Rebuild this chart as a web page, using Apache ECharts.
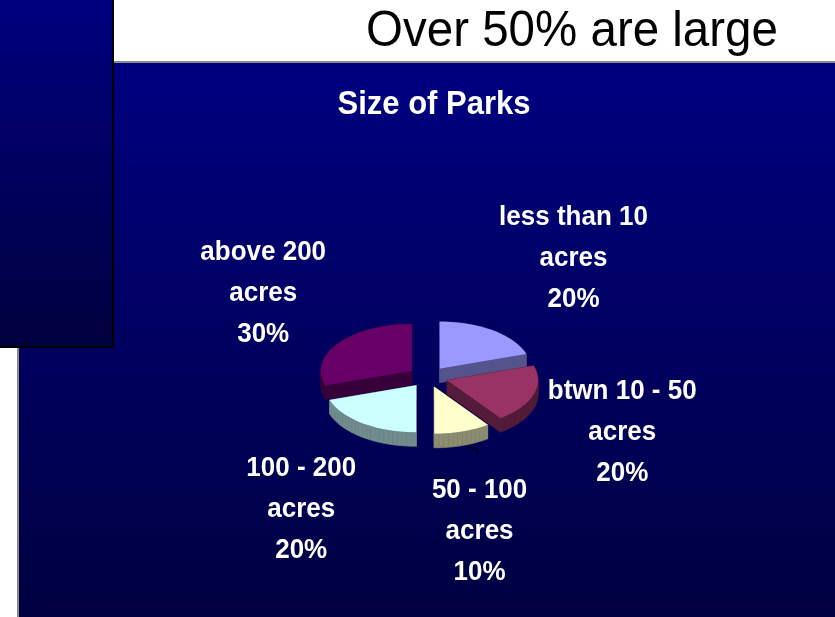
<!DOCTYPE html>
<html>
<head>
<meta charset="utf-8">
<title>Size of Parks</title>
<script src="https://cdn.jsdelivr.net/npm/echarts@6/dist/echarts.min.js"></script>
<style>
  html, body { margin: 0; padding: 0; background: #fff; }
  #chart { width: 835px; height: 617px; }
</style>
</head>
<body>
<div id="chart"></div>
<script>
// slices, clockwise from 12 o'clock
var categories = ['less than 10\nacres', 'btwn 10 - 50\nacres', '50 - 100\nacres', '100 - 200\nacres', 'above 200\nacres'];
var values = [20, 20, 10, 20, 30];
var colors = ['#9999FF', '#993366', '#FFFFCC', '#CCFFFF', '#660066'];

var headline = 'Over 50% are large';
var chartTitle = 'Size of Parks';

var FONT = '"Liberation Sans", Arial, Helvetica, sans-serif';
var STRETCH = 1.07; // text in the slide is a bit taller than wide

// tilted pie layout (px)
var pie = { cx: 428, cy: 377, rx: 91, ry: 47, depth: 14, explode: 20, labelRx: 126, labelRy: 95 };

var total = values.reduce(function (a, b) { return a + b; }, 0);
var startAngles = [];
var acc = 0;
values.forEach(function (v) {
  startAngles.push(acc / total * Math.PI * 2);
  acc += v;
});

function midAngle(i) {
  return startAngles[i] + values[i] / total * Math.PI;
}

// draw back slices first
var drawOrder = values.map(function (v, i) { return i; }).sort(function (a, b) {
  return -Math.cos(midAngle(a)) - -Math.cos(midAngle(b));
});

function shade(hex, k) {
  var n = parseInt(hex.slice(1), 16);
  var r = Math.round(((n >> 16) & 255) * k);
  var g = Math.round(((n >> 8) & 255) * k);
  var b = Math.round((n & 255) * k);
  return 'rgb(' + r + ',' + g + ',' + b + ')';
}

var measureCtx = document.createElement('canvas').getContext('2d');
measureCtx.font = 'bold 26px ' + FONT;
function halfWidth(txt) {
  return Math.max.apply(null, txt.split('\n').map(function (s) {
    return measureCtx.measureText(s).width;
  })) / 2;
}

// how far the label box is pushed sideways (0 at top/bottom, full at the sides)
function sidePush(s) {
  var f = Math.min(1, Math.pow(Math.abs(s) / 0.6, 2));
  return s < 0 ? -f : f;
}

function renderSlice(params, api) {
  var i = params.dataIndex;
  var v = api.value(1);
  var a0 = startAngles[i];
  var a1 = a0 + v / total * Math.PI * 2;
  var mid = (a0 + a1) / 2;
  var ratio = pie.ry / pie.rx;
  var vx = pie.cx + pie.explode * Math.sin(mid);
  var vy = pie.cy - pie.explode * Math.cos(mid) * ratio;
  var d = pie.depth;

  var pts = [[vx, vy]];
  var n = Math.max(8, Math.round((a1 - a0) / (Math.PI * 2) * 120));
  for (var k = 0; k <= n; k++) {
    var t = a0 + (a1 - a0) * k / n;
    pts.push([vx + pie.rx * Math.sin(t), vy - pie.ry * Math.cos(t)]);
  }

  var rank = drawOrder.indexOf(i);
  var side = shade(colors[i], 0.55);
  var children = [];
  for (k = 0; k < pts.length; k++) {
    var p = pts[k], q = pts[(k + 1) % pts.length];
    children.push({
      type: 'polygon', z2: rank * 10, silent: true,
      shape: { points: [p, q, [q[0], q[1] + d], [p[0], p[1] + d]] },
      style: { fill: side, stroke: side, lineWidth: 0.6 }
    });
  }
  children.push({
    type: 'polygon', z2: rank * 10 + 1,
    shape: { points: pts },
    style: { fill: colors[i] }
  });

  // label outside the slice, measured from the middle of the pie's thickness
  var pct = Math.round(v / total * 100) + '%';
  var txt = categories[i] + '\n' + pct;
  var hw = halfWidth(txt), hh = 60;
  var lx = pie.cx + pie.labelRx * Math.sin(mid) + hw * sidePush(Math.sin(mid));
  var ly = pie.cy + d / 2 - (pie.labelRy + hh) * Math.cos(mid);
  children.push({
    type: 'text', z2: 200, silent: true,
    x: lx, y: ly, scaleY: STRETCH,
    style: {
      text: txt, x: 0, y: 0,
      fill: '#fff', font: 'bold 26px ' + FONT,
      align: 'center', verticalAlign: 'middle', lineHeight: 38.3
    }
  });

  // small leader line for the thin slice
  if (v / total < 0.15) {
    var sx = vx + pie.rx * Math.sin(mid), sy = vy - pie.ry * Math.cos(mid) + d;
    children.push({
      type: 'polyline', z2: 200, silent: true,
      shape: { points: [[sx + 4, sy + 1], [sx + 15, sy + 4], [sx + 16, sy + 10]] },
      style: { stroke: '#000', lineWidth: 1, fill: null }
    });
  }

  return { type: 'group', children: children };
}

var chart = echarts.init(document.getElementById('chart'));
chart.setOption({
  animation: false,
  backgroundColor: '#fff',
  graphic: [
    {
      type: 'rect', z: -10, silent: true,
      shape: { x: 18, y: 62, width: 840, height: 580 },
      style: {
        fill: new echarts.graphic.LinearGradient(0, 0, 0, 1, [
          { offset: 0, color: '#000080' },
          { offset: 1, color: '#00003e' }
        ]),
        stroke: '#8a8a8a', lineWidth: 2
      }
    },
    {
      type: 'rect', z: -9, silent: true,
      shape: { x: -4, y: -4, width: 117, height: 351 },
      style: {
        fill: new echarts.graphic.LinearGradient(0, 0, 0, 1, [
          { offset: 0, color: '#000080' },
          { offset: 1, color: '#00003e' }
        ]),
        stroke: '#000', lineWidth: 2
      }
    },
    {
      type: 'text', z: 5, silent: true,
      x: 572, y: 32, scaleY: 1.04,
      style: {
        text: headline, x: 0, y: 0,
        fill: '#000', font: '47.5px ' + FONT,
        align: 'center', verticalAlign: 'middle'
      }
    },
    {
      type: 'text', z: 5, silent: true,
      x: 434, y: 105, scaleY: STRETCH,
      style: {
        text: chartTitle, x: 0, y: 0,
        fill: '#fff', font: 'bold 31px ' + FONT,
        align: 'center', verticalAlign: 'middle'
      }
    }
  ],
  series: [{
    type: 'custom',
    coordinateSystem: 'none',
    renderItem: renderSlice,
    data: values.map(function (v, i) { return [i, v]; })
  }]
});
</script>
</body>
</html>
